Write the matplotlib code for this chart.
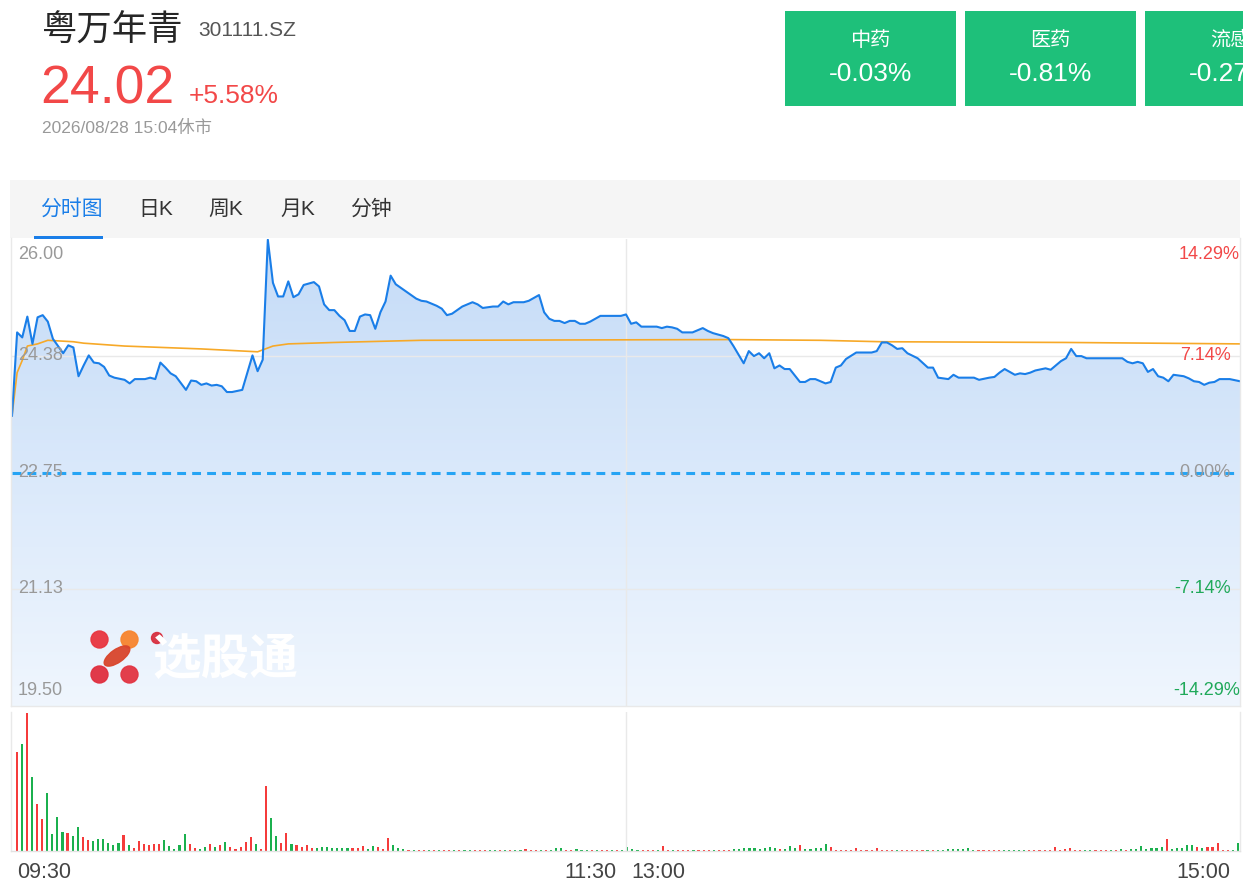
import numpy as np
import matplotlib
matplotlib.use("Agg")
from matplotlib import pyplot as plt
from matplotlib.patches import Rectangle, Circle, Ellipse, Polygon

plt.rcParams['font.family'] = ['Liberation Sans', 'Noto Sans CJK SC', 'DejaVu Sans']

# ---- data ----
stock_name = "粤万年青"
stock_code = "301111.SZ"
last_price = "24.02"
change_pct = "+5.58%"
time_stamp = "2026/08/28 15:04休市"
sector_names = ["中药", "医药", "流感"]
sector_pcts = ["-0.03%", "-0.81%", "-0.27%"]
tabs = ["分时图", "日K", "周K", "月K", "分钟"]

prev_close = 22.75
price_ticks = [26.00, 24.38, 22.75, 21.13, 19.50]
pct_ticks = ["14.29%", "7.14%", "0.00%", "-7.14%", "-14.29%"]
time_labels = ["09:30", "11:30", "13:00", "15:00"]

# minute index (0..240) and price at the turning points of the line
price_t = [0, 1, 2, 3, 4, 5, 6, 7, 8, 9, 10, 11, 12, 13, 14, 15, 16, 17, 18, 19,
           20, 22, 23, 24, 26, 27, 28, 29, 30, 31, 32, 34, 35, 36, 37, 38, 39, 40,
           41, 42, 43, 45, 47, 48, 49, 50, 51, 52, 53, 54, 55, 56, 57, 58, 59, 60,
           61, 62, 63, 64, 65, 66, 67, 68, 69, 70, 71, 72, 73, 74, 75, 76, 77, 78,
           79, 80, 81, 83, 84, 85, 86, 87, 88, 90, 91, 92, 94, 95, 96, 97, 98, 100,
           101, 102, 103, 104, 105, 106, 107, 108, 109, 110, 111, 112, 113, 115,
           117, 119, 120,
           121, 122, 123, 126, 127, 128, 129, 130, 131, 133, 134, 135, 136, 137,
           138, 139, 140, 141, 143, 144, 145, 146, 147, 148, 149, 150, 151, 152,
           154, 155, 156, 157, 159, 160, 161, 162, 163, 165, 168, 169, 170, 171,
           172, 173, 174, 175, 177, 179, 180, 181, 183, 184, 185, 188, 189, 191,
           192, 193, 194, 196, 197, 198, 199, 200, 202, 203, 204, 205, 206, 207,
           208, 209, 210, 217, 218, 219, 220, 221, 222, 223, 224, 225, 226, 227,
           228, 229, 230, 231, 232, 233, 234, 235, 236, 238, 240]
price_v = [23.54, 24.70, 24.63, 24.92, 24.54, 24.91, 24.94, 24.85, 24.61, 24.51,
           24.41, 24.52, 24.49, 24.09, 24.24, 24.38, 24.28, 24.27, 24.22, 24.10,
           24.07, 24.04, 23.99, 24.05, 24.05, 24.07, 24.05, 24.28, 24.21, 24.13,
           24.09, 23.90, 24.03, 24.02, 23.97, 23.99, 23.96, 23.97, 23.95, 23.87,
           23.87, 23.90, 24.38, 24.16, 24.32, 25.99, 25.39, 25.20, 25.20, 25.41,
           25.19, 25.23, 25.36, 25.38, 25.40, 25.34, 25.09, 25.01, 25.01, 24.93,
           24.87, 24.72, 24.72, 24.92, 24.95, 24.94, 24.75, 24.98, 25.13, 25.49,
           25.37, 25.32, 25.27, 25.22, 25.17, 25.14, 25.13, 25.07, 25.03, 24.94,
           24.96, 25.01, 25.06, 25.12, 25.09, 25.04, 25.06, 25.06, 25.13, 25.09,
           25.12, 25.12, 25.14, 25.18, 25.22, 24.98, 24.89, 24.86, 24.86, 24.83,
           24.86, 24.86, 24.82, 24.82, 24.85, 24.93, 24.93, 24.93, 24.95,
           24.82, 24.84, 24.78, 24.78, 24.76, 24.78, 24.77, 24.75, 24.70, 24.70,
           24.73, 24.76, 24.72, 24.69, 24.67, 24.65, 24.62, 24.51, 24.27, 24.44,
           24.37, 24.41, 24.34, 24.41, 24.20, 24.24, 24.19, 24.19, 24.01, 24.01,
           24.05, 24.05, 23.99, 24.01, 24.21, 24.24, 24.33, 24.42, 24.42, 24.44,
           24.56, 24.56, 24.52, 24.47, 24.48, 24.41, 24.34, 24.21, 24.21, 24.07,
           24.05, 24.11, 24.07, 24.07, 24.04, 24.07, 24.08, 24.14, 24.19, 24.11,
           24.13, 24.12, 24.14, 24.17, 24.20, 24.18, 24.24, 24.30, 24.34, 24.47,
           24.37, 24.37, 24.34, 24.34, 24.29, 24.27, 24.29, 24.27, 24.15, 24.19,
           24.09, 24.07, 24.02, 24.11, 24.10, 24.09, 24.06, 24.02, 24.01, 23.97,
           24.00, 24.01, 24.05, 24.05, 24.02]

avg_t = [0, 1, 2, 3, 5, 7, 12, 14, 22, 37, 48, 51, 54, 63, 80, 140, 158, 170, 206, 240]
avg_v = [23.54, 24.14, 24.31, 24.51, 24.54, 24.59, 24.57, 24.55, 24.51, 24.47,
         24.43, 24.51, 24.54, 24.56, 24.59, 24.60, 24.59, 24.57, 24.56, 24.54]

# volume per minute (relative units), r = up minute, g = down minute
volume = [297, 318, 413, 222, 140, 95, 173, 50, 102, 57,
          53, 45, 73, 42, 33, 30, 37, 37, 23, 17,
          23, 48, 18, 10, 30, 22, 18, 20, 20, 33,
          15, 5, 17, 50, 20, 10, 7, 12, 20, 13,
          18, 27, 12, 7, 13, 27, 43, 20, 7, 195,
          98, 45, 23, 53, 22, 18, 13, 17, 10, 10,
          13, 12, 10, 10, 8, 10, 10, 10, 15, 5,
          15, 13, 7, 40, 17, 10, 5,
          3, 4, 3, 3, 4, 3, 2, 3, 4, 3,
          3, 2, 3, 4, 3, 3, 2, 3, 4, 3,
          3, 4, 3, 5, 3, 3, 4, 3, 3, 10,
          9, 4, 3, 5, 3, 3, 2, 3, 4, 3,
          2, 4, 3, 12,
          5, 4, 3, 3, 3, 3, 14, 3, 4, 3,
          3, 3, 2, 3, 3, 3, 4, 3, 3, 4,
          5, 5, 8, 10, 10, 5, 10, 12, 8, 6,
          5, 14, 10, 18, 5, 5, 8, 8, 20, 12,
          4, 3, 4, 3, 8, 3, 4, 3, 8, 4,
          3, 3, 4, 3, 3, 3, 2, 3, 3, 3,
          4, 3, 5, 6, 7, 5, 8, 3, 4, 3,
          3, 4, 3, 4, 3, 3, 2, 3, 4, 3,
          4, 3, 3, 13, 4, 5, 10, 4, 3, 3,
          3, 3, 4, 3, 4, 3, 5, 4, 5, 6,
          14, 5, 8, 10, 12, 35, 7, 8, 10, 18,
          18, 12, 10, 12, 13, 25, 3, 2, 3, 25]
vol_dir = ("rgrgrrgggg" "rggrrggggg" "grgrrrrrrg" "ggggrrggrg" "rgrrrrrgrr"
           "ggrrgrrrrg" "ggggggrrrg" "grrrggg"
           "rgrrgrgrrg" "rggrrrggrg" "rggrrrgrgg" "grrgggrgrr" "grgg"
           "ggrrrgrrgr" "rrgrrrgrrr" "gggggggggr" "gggrgggggr" "rrrrrrrrrr"
           "rrgrrrrrgr" "ggggggggrr" "rrrgggggrr" "rrrrrrrrrg" "grrrgrgrgg"
           "gggggrgggg" "grgrrrrrgg")

# ---- layout in pixels ----
W, H = 1243, 888
fig = plt.figure(figsize=(W / 100, H / 100), dpi=100)
fig.patch.set_facecolor("white")


def px_axes(x0, y0, x1, y1, **kw):
    return fig.add_axes([x0 / W, 1 - y1 / H, (x1 - x0) / W, (y1 - y0) / H], **kw)


blue = "#1a7ee8"
red = "#f24848"
green = "#20a95a"
grid_c = "#e9e9e9"

# price panel
ax = px_axes(12, 239, 1240, 706)
ax.set_xlim(0, 240)
ax.set_ylim(19.50, 26.00)
ax.axis("off")
ax.axhline(24.375, color=grid_c, lw=1, zorder=1)
ax.axhline(21.125, color=grid_c, lw=1, zorder=1)
ax.axvline(120, color=grid_c, lw=1, zorder=1)

grad = np.linspace(0, 1, 256).reshape(-1, 1)
c_top = np.array([0.77, 0.86, 0.97])
c_bot = np.array([0.94, 0.965, 0.995])
img = c_top + (c_bot - c_top) * grad[..., None] * np.ones((1, 2, 1))
im = ax.imshow(img, extent=[0, 240, 19.50, 26.00], origin="upper", aspect="auto", zorder=0.5)
poly = Polygon([(price_t[0], 19.50)] + list(zip(price_t, price_v)) + [(price_t[-1], 19.50)],
               closed=True, facecolor="none", edgecolor="none")
ax.add_patch(poly)
im.set_clip_path(poly)

ax.axhline(prev_close, color="#26a4f4", lw=2.2, ls=(0, (2.9, 2.0)), zorder=3)
ax.plot(avg_t, avg_v, color="#f7a928", lw=1.2, zorder=4)
ax.plot(price_t, price_v, color=blue, lw=1.5, zorder=5)

# volume panel
axv = px_axes(12, 712, 1240, 851)
axv.set_xlim(-0.92, 240.4)
axv.set_ylim(0, 415)
axv.axis("off")
axv.axvline(119.75, color=grid_c, lw=1)
cols = ["#f53b3b" if d == "r" else "#1bb04e" for d in vol_dir]
axv.bar(range(len(volume)), volume, width=0.42, color=cols, linewidth=0)

# overlay for texts and page furniture
ov = fig.add_axes([0, 0, 1, 1], zorder=10)
ov.set_xlim(0, W)
ov.set_ylim(H, 0)
ov.axis("off")
ov.patch.set_alpha(0)

ov.text(42, 31, stock_name, fontsize=25.5, color="#262626", va="center", ha="left")
ov.text(198, 30, stock_code, fontsize=15, color="#555555", va="center", ha="left")
ov.text(40, 89, last_price, fontsize=38.5, color=red, va="center", ha="left")
ov.text(189, 96, change_pct, fontsize=19, color=red, va="center", ha="left")
ov.text(42, 128, time_stamp, fontsize=12.5, color="#999999", va="center", ha="left")

for i, (nm, pc) in enumerate(zip(sector_names, sector_pcts)):
    x0 = 785 + i * 180
    ov.add_patch(Rectangle((x0, 11), 171, 95.5, facecolor="#1ec07a", edgecolor="none"))
    ov.text(x0 + 85.5, 40, nm, fontsize=14.5, color="white", ha="center", va="center")
    ov.text(x0 + 85.5, 74, pc, fontsize=19, color="white", ha="center", va="center")

ov.add_patch(Rectangle((10, 180), 1230, 58, facecolor="#f5f5f5", edgecolor="none"))
ov.add_patch(Rectangle((34, 235.5), 69, 3.5, facecolor=blue, edgecolor="none"))
tab_x = [40, 138, 208, 280, 350]
for i, (tx, tl) in enumerate(zip(tab_x, tabs)):
    ov.text(tx, 209, tl, fontsize=15, color=blue if i == 0 else "#333333",
            ha="left", va="center")

# frame lines
ov.plot([11, 11], [238, 706], color=grid_c, lw=1)
ov.plot([1240, 1240], [238, 706], color=grid_c, lw=1)
ov.plot([11, 1240], [706, 706], color=grid_c, lw=1)
ov.plot([11, 11], [712, 851], color=grid_c, lw=1)
ov.plot([1240, 1240], [712, 851], color=grid_c, lw=1)
ov.plot([11, 1240], [851, 851], color="#e2e2e2", lw=1)

# price axis labels
label_y = [254, 355, 472, 588, 690]
pct_cols = [red, red, "#999999", green, green]
pct_x = [1240, 1231, 1231, 1231, 1240]
for py, pl, pc, pcol, px in zip(label_y, price_ticks, pct_ticks, pct_cols, pct_x):
    ov.text(18, py, "%.2f" % pl, fontsize=13, color="#999999", ha="left", va="center")
    ov.text(px, py, pc, fontsize=13, color=pcol, ha="right", va="center")

# time labels
ov.text(17, 872, time_labels[0], fontsize=15.5, color="#444444", ha="left", va="center")
ov.text(617, 872, time_labels[1], fontsize=15.5, color="#444444", ha="right", va="center")
ov.text(631, 872, time_labels[2], fontsize=15.5, color="#444444", ha="left", va="center")
ov.text(1230, 872, time_labels[3], fontsize=15.5, color="#444444", ha="right", va="center")

# watermark
ov.add_patch(Circle((99.5, 639.5), 8.5, color="#e8353f", alpha=0.95))
ov.add_patch(Circle((129.5, 639.5), 8.5, color="#f7852e", alpha=0.95))
ov.add_patch(Circle((99.5, 674.5), 8.5, color="#e02f3f", alpha=0.95))
ov.add_patch(Circle((129.5, 674.5), 8.5, color="#e23442", alpha=0.95))
ov.add_patch(Ellipse((117, 656), 30, 13, angle=-35, color="#d9452c", alpha=0.95))
ov.add_patch(Circle((157, 638), 5.5, color="#d83040", alpha=0.95))
ov.text(152, 659, "选股通", fontsize=35, color="white", fontweight="bold",
        ha="left", va="center", family=["Noto Sans CJK SC"])

fig.savefig("out.png", dpi=100)
